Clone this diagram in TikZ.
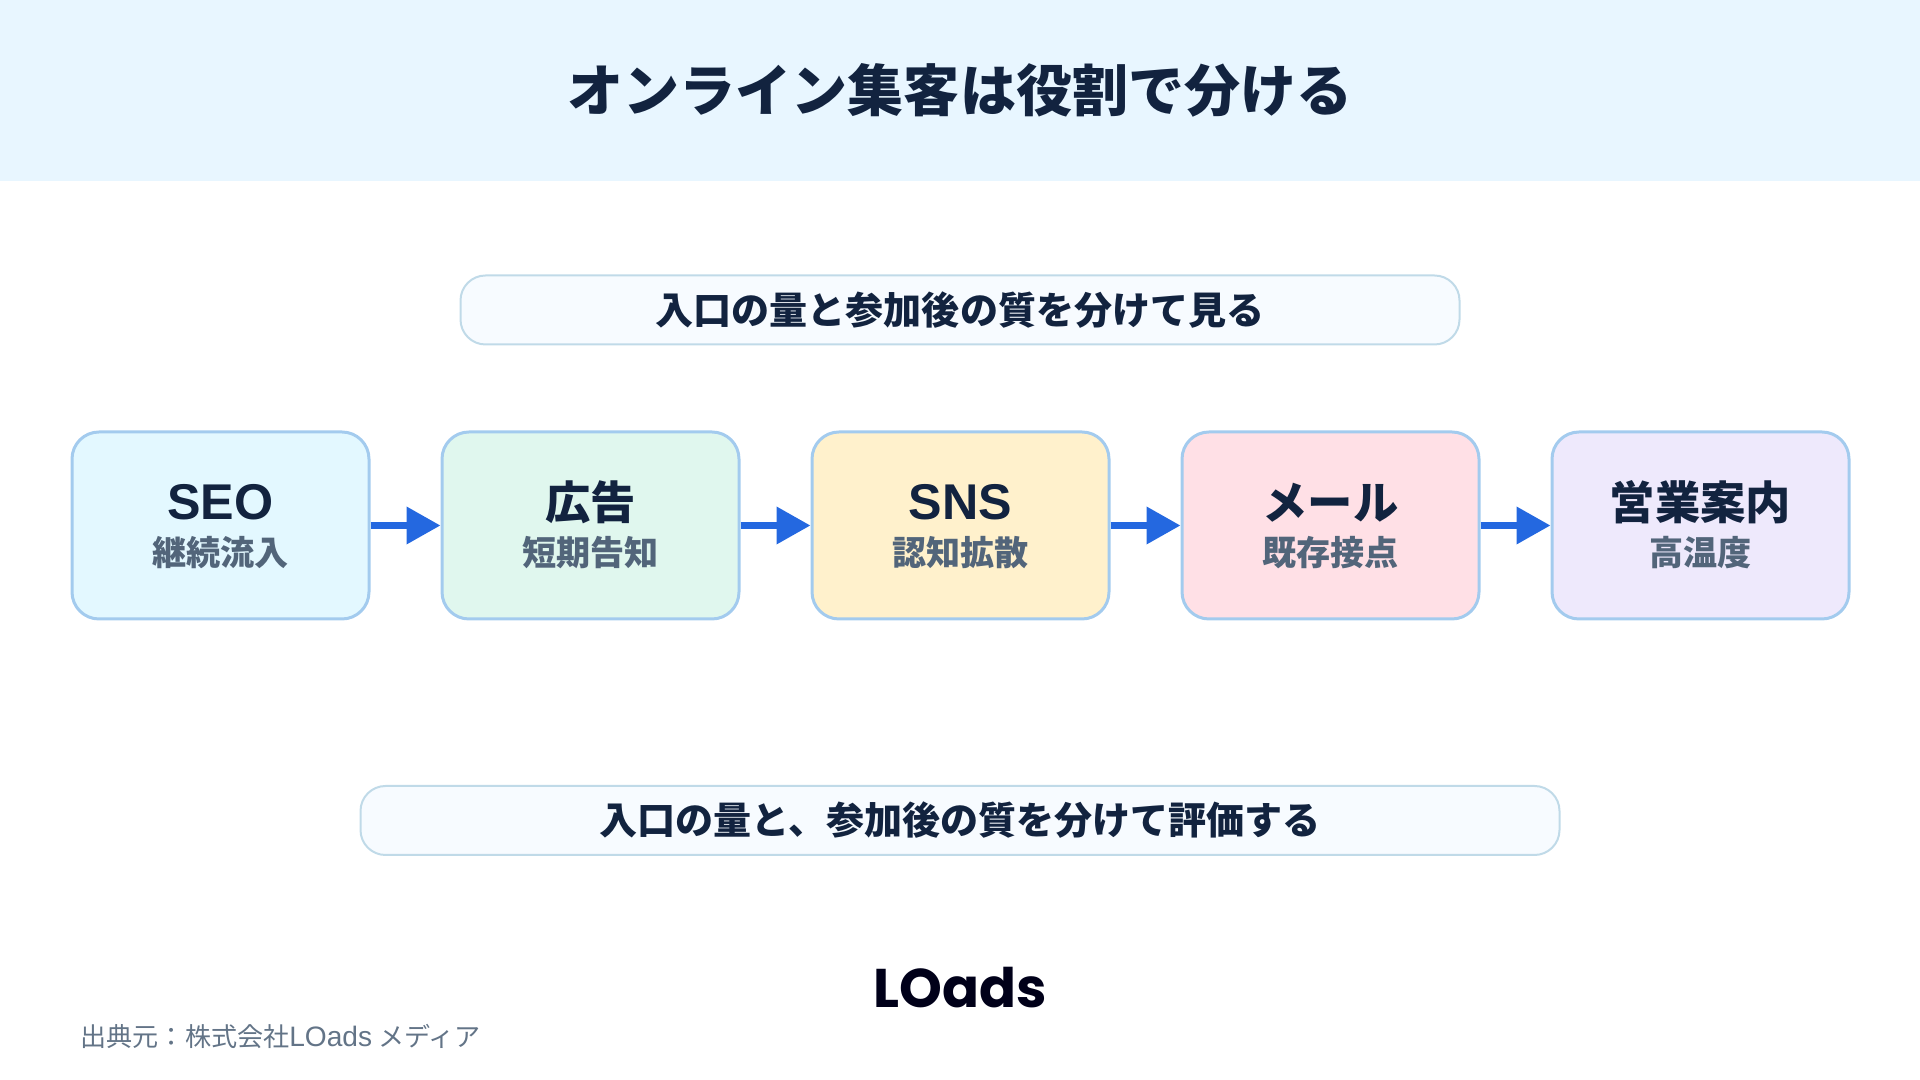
\documentclass[tikz,border=0pt]{standalone}
\usepackage{fontspec}
\usepackage{xcolor}
\setmainfont{Noto Sans CJK JP}
\newfontfamily\logofont{Poppins}
\newfontfamily\latinfont{Liberation Sans}
\usetikzlibrary{arrows.meta, positioning}

\definecolor{inkdark}{HTML}{12233F}
\definecolor{inkgray}{HTML}{52657A}
\definecolor{bandblue}{HTML}{E8F6FF}
\definecolor{edgeblue}{HTML}{A3CBEE}
\definecolor{paleedge}{HTML}{C0DAE8}
\definecolor{palefill}{HTML}{F7FBFF}
\definecolor{flowblue}{HTML}{2468E0}

\newcommand{\boxhead}{\fontsize{12.9pt}{14.2pt}\selectfont\bfseries\color{inkdark}}
\newcommand{\boxlatin}{\latinfont\fontsize{14.3pt}{14.2pt}\selectfont\bfseries\color{inkdark}}
\newcommand{\boxsub}{\fontsize{9.7pt}{14.2pt}\selectfont\bfseries\color{inkgray}}

\begin{document}
\begin{tikzpicture}[
    % Styles
    band/.style={
        rectangle,
        fill=bandblue,
        minimum width=19.2cm,
        minimum height=1.81cm,
        inner sep=0pt,
        text=inkdark,
        font=\fontsize{15.95pt}{18pt}\selectfont\bfseries
    },
    banner/.style={
        rectangle,
        rounded corners=0.25cm,
        fill=palefill,
        draw=paleedge,
        line width=0.02cm,
        minimum height=0.69cm,
        inner sep=0pt,
        text=inkdark,
        font=\fontsize{10.83pt}{13pt}\selectfont\bfseries
    },
    stage/.style={
        rectangle,
        rounded corners=0.27cm,
        draw=edgeblue,
        line width=0.03cm,
        minimum width=2.97cm,
        minimum height=1.87cm,
        inner sep=0pt,
        text height=25.5pt,
        text depth=3pt,
        align=center
    },
    seostage/.style={stage, fill={rgb,255:red,227;green,248;blue,255}},
    adstage/.style={stage, fill={rgb,255:red,224;green,247;blue,238}},
    snsstage/.style={stage, fill={rgb,255:red,255;green,241;blue,204}},
    mailstage/.style={stage, fill={rgb,255:red,255;green,224;blue,230}},
    salesstage/.style={stage, fill={rgb,255:red,238;green,233;blue,252}},
    flow/.style={
        draw=flowblue,
        line width=0.07cm,
        -{Triangle[length=0.34cm, width=0.36cm, fill=flowblue]}
    }
]
\useasboundingbox (0,0) rectangle (19.2,10.8);

% Title band
\node[band] (title) at (9.6, 9.895) {オンライン集客は役割で分ける};

% Upper banner
\node[banner, minimum width=9.99cm] (upper) at (9.6, 7.7) {入口の量と参加後の質を分けて見る};

% Stages
\node[seostage] (seo) at (2.205, 5.545) {
    {\boxlatin SEO}\\[1pt]
    {\boxsub 継続流入}
};

\node[adstage] (ad) at (5.905, 5.545) {
    {\boxhead 広告}\\[1pt]
    {\boxsub 短期告知}
};

\node[snsstage] (sns) at (9.605, 5.545) {
    {\boxlatin SNS}\\[1pt]
    {\boxsub 認知拡散}
};

\node[mailstage] (mail) at (13.305, 5.545) {
    {\boxhead メール}\\[1pt]
    {\boxsub 既存接点}
};

\node[salesstage] (sales) at (17.005, 5.545) {
    {\boxhead 営業案内}\\[1pt]
    {\boxsub 高温度}
};

% Arrows
\draw[flow] (seo) -- (ad);
\draw[flow] (ad) -- (sns);
\draw[flow] (sns) -- (mail);
\draw[flow] (mail) -- (sales);

% Lower banner
\node[banner, minimum width=11.99cm] (lower) at (9.6, 2.595) {入口の量と、参加後の質を分けて評価する};

% Logo and source
\node[font=\logofont\fontsize{15.5pt}{18pt}\selectfont\bfseries, text=black!90!blue, inner sep=0pt] (logo) at (9.6, 0.92) {LOads};
\node[font=\fontsize{7.42pt}{9pt}\selectfont, text=inkgray!90, anchor=west, inner sep=0pt] (source) at (0.80, 0.44) {出典元：株式会社{\latinfont\fontsize{8pt}{9pt}\selectfont LOads} メディア};

\end{tikzpicture}
\end{document}
